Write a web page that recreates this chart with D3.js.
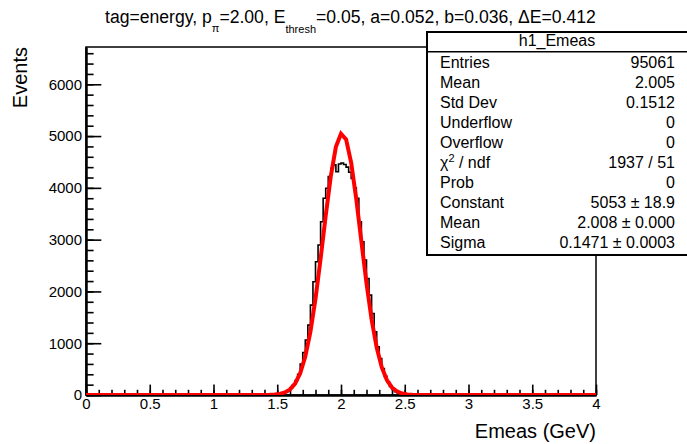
<!DOCTYPE html>
<html><head><meta charset="utf-8">
<script src="https://cdn.jsdelivr.net/npm/d3@7"></script>
<style>
body{margin:0;background:#fff}
svg{display:block}
text{font-family:"Liberation Sans",Arial,Helvetica,sans-serif;fill:#000}
</style>
</head><body>
<svg id="c" width="687" height="444"></svg>
<script>
// ---- data ----
const histXMin = 0, histXMax = 4, histBins = 200;
const countsFirstBin = 72; // bin starting at 1.44
const counts = [1, 3, 6, 12, 22, 38, 60, 92, 135, 195,
  280, 400, 600, 820, 1060, 1350, 1735, 2186, 2573, 2896,
  3346, 3799, 3992, 4217, 4379, 4443, 4310, 4460, 4480, 4450,
  4400, 4300, 4180, 4000, 3800, 3346, 2959, 2605, 2251, 1928,
  1574, 1219, 929, 704, 510, 360, 250, 165, 105, 65,
  40, 24, 14, 8, 4, 2];
const fitX = [0, 1.36, 1.40, 1.44, 1.48, 1.52, 1.56, 1.60, 1.64, 1.68, 1.72, 1.76, 1.80, 1.84, 1.88, 1.92, 1.96,
  2.00, 2.04, 2.08, 2.12, 2.16, 2.20, 2.24, 2.28, 2.32, 2.36, 2.40, 2.44, 2.48, 2.52, 2.56, 2.60, 2.64, 4];
const fitY = [0, 0, 1, 3, 8, 21, 49, 108, 221, 420, 743, 1220, 1859, 2633, 3460, 4225, 4791,
  5046, 4935, 4483, 3781, 2963, 2156, 1457, 915, 533, 289, 145, 68, 29, 12, 4, 2, 0, 0];
const yMax = 6720;
const xTicks = [0, 0.5, 1, 1.5, 2, 2.5, 3, 3.5, 4];
const xTickLabels = ["0", "0.5", "1", "1.5", "2", "2.5", "3", "3.5", "4"];
const yTicks = [0, 1000, 2000, 3000, 4000, 5000, 6000];
const yTickLabels = ["0", "1000", "2000", "3000", "4000", "5000", "6000"];
const statsTitle = "h1_Emeas";
const statNames = ["Entries", "Mean", "Std Dev", "Underflow", "Overflow", "χ2 / ndf", "Prob", "Constant", "Mean", "Sigma"];
const statValues = ["95061", "2.005", "0.1512", "0", "0", "1937 / 51", "0", "5053 ± 18.9", "2.008 ± 0.000", "0.1471 ± 0.0003"];
const xTitle = "Emeas (GeV)";
const yTitle = "Events";

// ---- layout ----
const L = 86, R = 596, T = 47, B = 395;
const svg = d3.select("#c");
const x = d3.scaleLinear([histXMin, histXMax], [L, R]);
const y = d3.scaleLinear([0, yMax], [B, T]);

// frame
svg.append("rect").attr("x", L).attr("y", T).attr("width", R - L).attr("height", B - T)
  .attr("fill", "none").attr("stroke", "#000").attr("stroke-width", 1.5);

// axes
const minorX = d3.range(0, 40.5, 1).map(d => d / 10);
const minorY = d3.range(0, yMax, 200);
const gxm = svg.append("g").attr("transform", `translate(0,${B})`)
  .call(d3.axisBottom(x).tickValues(minorX).tickSize(-5.2).tickSizeOuter(0).tickFormat(""));
const gx = svg.append("g").attr("transform", `translate(0,${B})`)
  .call(d3.axisBottom(x).tickValues(xTicks).tickSize(-10.4).tickSizeOuter(0).tickPadding(3)
    .tickFormat((d, i) => xTickLabels[i]));
const gym = svg.append("g").attr("transform", `translate(${L},0)`)
  .call(d3.axisLeft(y).tickValues(minorY).tickSize(-7.6).tickSizeOuter(0).tickFormat(""));
const gy = svg.append("g").attr("transform", `translate(${L},0)`)
  .call(d3.axisLeft(y).tickValues(yTicks).tickSize(-15.3).tickSizeOuter(0).tickPadding(4)
    .tickFormat((d, i) => yTickLabels[i]));
svg.selectAll(".domain").attr("stroke", "#000").attr("stroke-width", 2);
svg.selectAll(".tick line").attr("stroke", "#000").attr("stroke-width", 1.6);
gx.selectAll("text").attr("font-size", 15).attr("font-family", '"Liberation Sans",Arial,sans-serif').attr("fill", "#000");
gy.selectAll("text").attr("font-size", 15).attr("font-family", '"Liberation Sans",Arial,sans-serif').attr("fill", "#000");

// histogram step path
const bw = (histXMax - histXMin) / histBins;
const full = d3.range(histBins).map(i => {
  const k = i - countsFirstBin;
  return (k >= 0 && k < counts.length) ? counts[k] : 0;
});
let pts = [[histXMin, 0]];
full.forEach((c, i) => { pts.push([histXMin + i * bw, c]); pts.push([histXMin + (i + 1) * bw, c]); });
pts.push([histXMax, 0]);
svg.append("path").attr("d", d3.line().x(d => x(d[0])).y(d => y(d[1]))(pts))
  .attr("fill", "none").attr("stroke", "#000").attr("stroke-width", 1.6);

// fit curve
svg.append("clipPath").attr("id", "fr").append("rect")
  .attr("x", L).attr("y", T).attr("width", R - L).attr("height", B - T);
svg.append("path").attr("clip-path", "url(#fr)")
  .attr("d", d3.line().x((d, i) => x(fitX[i])).y((d, i) => y(fitY[i]))(fitX))
  .attr("fill", "none").attr("stroke", "#ff0000").attr("stroke-width", 4).attr("stroke-linejoin", "miter");

// title
const t = svg.append("text").attr("x", 105).attr("y", 23).attr("font-size", 17.6);
t.append("tspan").text("tag=energy, p");
t.append("tspan").attr("dy", 9).attr("font-size", 11).text("π");
t.append("tspan").attr("dy", -9).text("=2.00, E");
t.append("tspan").attr("dy", 10).attr("font-size", 11).text("thresh");
t.append("tspan").attr("dy", -10).text("=0.05, a=0.052, b=0.036, ΔE=0.412");

// axis titles
svg.append("text").attr("x", R).attr("y", 438).attr("text-anchor", "end").attr("font-size", 20).text(xTitle);
svg.append("text").attr("transform", "translate(27,47) rotate(-90)").attr("text-anchor", "end")
  .attr("font-size", 20).text(yTitle);

// stats box
const sx = 427, sy = 32, sw = 262, sh = 223, hh = 19.7;
svg.append("rect").attr("x", sx).attr("y", sy).attr("width", sw).attr("height", sh)
  .attr("fill", "#fff").attr("stroke", "#000").attr("stroke-width", 2);
svg.append("line").attr("x1", sx).attr("x2", sx + sw).attr("y1", sy + hh).attr("y2", sy + hh)
  .attr("stroke", "#000").attr("stroke-width", 1.5);
svg.append("text").attr("x", 557).attr("y", 46).attr("text-anchor", "middle").attr("font-size", 16).text(statsTitle);
statNames.forEach((n, i) => {
  const by = 68.3 + 19.93 * i;
  const tn = svg.append("text").attr("x", 440).attr("y", by).attr("font-size", 16);
  if (n.startsWith("χ2")) {
    tn.append("tspan").text("χ");
    tn.append("tspan").attr("dy", -6).attr("font-size", 11).text("2");
    tn.append("tspan").attr("dy", 6).text(" / ndf");
  } else tn.text(n);
  svg.append("text").attr("x", 675).attr("y", by).attr("text-anchor", "end").attr("font-size", 16).text(statValues[i]);
});
</script>
</body></html>
